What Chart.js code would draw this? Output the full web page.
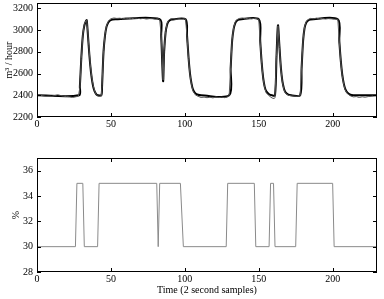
<!DOCTYPE html>
<html>
<head>
<meta charset="utf-8">
<script src="https://cdn.jsdelivr.net/npm/chart.js@4/dist/chart.umd.min.js"></script>
<style>
  html, body { margin: 0; padding: 0; background: #fff; }
  #wrap { position: relative; width: 384px; height: 299px; }
  #flowBox { position: absolute; left: 0; top: 0; width: 384px; height: 140px; }
  #pctBox  { position: absolute; left: 0; top: 140px; width: 384px; height: 159px; }
</style>
</head>
<body>
<div id="wrap">
  <div id="flowBox"><canvas id="flowChart"></canvas></div>
  <div id="pctBox"><canvas id="pctChart"></canvas></div>
</div>
<script>
// ---- data (time in 2 s samples) ----
const xTicks = [0, 50, 100, 150, 200];
const flowTicks = [2200, 2400, 2600, 2800, 3000, 3200];
const pctTicks = [28, 30, 32, 34, 36];

// model output (thick black)
const modelFlow = [
  [0,2400],[28.5,2400],[29,2480],[30,2750],[31,2950],[32,3040],[33,3080],[33.6,3092],
  [34,3040],[35,2850],[36,2680],[37,2560],[38,2480],[39,2435],[40,2410],[41,2400],
  [43.5,2400],[44,2480],[45,2800],[46,2950],[47,3030],[48,3065],[49,3085],[51,3097],
  [53,3100],[83,3100],[84,2950],[85.3,2530],[86,2800],[87,2980],[88,3050],[89,3080],
  [91,3097],[100.5,3100],[101.5,2950],[102.5,2750],[103.5,2600],[104.5,2510],[105.5,2455],
  [107,2420],[109,2405],[111,2400],[130,2400],[131,2650],[132,2900],[133,3010],[134,3060],
  [135,3085],[137,3098],[150,3100],[151,2900],[152,2700],[153,2560],[154,2480],[155,2440],
  [157,2410],[159,2400],[161,2400],[162,2750],[163,3045],[164,2850],[165,2650],[166,2530],
  [167,2465],[168,2430],[170,2405],[172,2400],[178,2400],[179,2650],[180,2900],[181,3020],
  [182,3065],[183,3085],[185,3098],[203.5,3100],[204.5,2900],[205.5,2720],[206.5,2590],
  [207.5,2510],[208.5,2460],[210,2425],[212,2405],[214,2400],[230,2400]
];

// measured flow (thin grey)
const measFlow = [
  [0,2405],[2,2402],[4,2395],[6,2390],[8,2392],[10,2390],[12,2398],[14,2405],[16,2398],
  [18,2392],[20,2388],[22,2385],[24,2380],[26,2385],[28,2392],[29,2470],[30,2740],[31,2955],
  [32,3050],[33,3085],[33.6,3090],[34,3045],[35,2860],[36,2690],[37,2570],[38,2490],[39,2440],
  [40,2405],[41,2395],[42,2390],[43.5,2395],[44,2490],[45,2810],[46,2960],[47,3040],[48,3075],
  [49,3095],[50,3105],[52,3112],[54,3108],[56,3110],[58,3105],[60,3110],[62,3108],[64,3105],
  [66,3112],[68,3110],[70,3105],[72,3108],[74,3102],[76,3106],[78,3105],[80,3100],[82,3105],
  [83,3095],[84,2960],[85.3,2540],[86,2810],[87,2990],[88,3060],[89,3090],[90,3102],[92,3106],
  [94,3100],[96,3104],[98,3100],[100,3105],[100.5,3100],[101.5,2940],[102.5,2740],[103.5,2590],
  [104.5,2500],[105.5,2440],[107,2405],[109,2390],[111,2380],[113,2383],[115,2378],[117,2382],
  [119,2376],[121,2384],[123,2379],[125,2382],[127,2378],[129,2385],[130,2400],[131,2660],
  [132,2910],[133,3020],[134,3070],[135,3095],[137,3108],[139,3112],[141,3106],[143,3110],
  [145,3105],[147,3108],[149,3104],[150,3100],[151,2890],[152,2690],[153,2550],[154,2470],
  [155,2425],[157,2395],[159,2375],[160.5,2370],[161,2380],[162,2760],[163,3040],[164,2840],
  [165,2640],[166,2520],[167,2455],[168,2420],[170,2400],[172,2395],[174,2392],[176,2390],
  [178,2395],[179,2660],[180,2910],[181,3030],[182,3075],[183,3095],[185,3108],[187,3105],
  [189,3110],[191,3104],[193,3108],[195,3102],[197,3106],[199,3104],[201,3100],[203.5,3100],
  [204.5,2890],[205.5,2710],[206.5,2580],[207.5,2500],[208.5,2450],[210,2415],[212,2395],
  [214,2385],[216,2388],[218,2380],[220,2386],[222,2382],[224,2388],[226,2390],[228,2395],
  [230,2398]
];

// controller output (%)
const pctSteps = [
  [0,30],[26,30],[27,35],[31,35],[32,30],[41,30],[42,35],[81,35],[82,30],[83,35],[97,35],
  [99,30],[128,30],[129,35],[147,35],[148,30],[157,30],[158,35],[160,35],[161,30],[175,30],
  [176,35],[200,35],[201,30],[230,30]
];

const FONT = "'Liberation Serif', 'DejaVu Serif', serif";
const toXY = arr => arr.map(p => ({ x: p[0], y: p[1] }));

// boxed frame with inward ticks on all four sides (matlab look)
const frameTicks = {
  id: "frameTicks",
  afterDatasetsDraw(chart) {
    const { ctx, chartArea: a, scales: { x, y } } = chart;
    const L = 4;
    ctx.save();
    ctx.strokeStyle = "#000";
    ctx.lineWidth = 1;
    ctx.strokeRect(Math.round(a.left) + 0.5, Math.round(a.top) + 0.5,
                   Math.round(a.width) - 1, Math.round(a.height) - 1);
    ctx.beginPath();
    x.ticks.forEach(t => {
      const px = Math.round(x.getPixelForValue(t.value)) + 0.5;
      ctx.moveTo(px, a.bottom); ctx.lineTo(px, a.bottom - L);
      ctx.moveTo(px, a.top);    ctx.lineTo(px, a.top + L);
    });
    y.ticks.forEach(t => {
      const py = Math.round(y.getPixelForValue(t.value)) + 0.5;
      ctx.moveTo(a.left, py);  ctx.lineTo(a.left + L, py);
      ctx.moveTo(a.right, py); ctx.lineTo(a.right - L, py);
    });
    ctx.stroke();
    ctx.restore();
  }
};

function axisX(withTitle, h) {
  return {
    type: "linear", min: 0, max: 230,
    afterBuildTicks: s => { s.ticks = xTicks.map(v => ({ value: v })); },
    afterFit: s => { s.height = h; s.paddingLeft = 0; s.paddingRight = 0; },
    grid: { display: false, drawTicks: false, tickLength: 0 }, border: { display: false },
    ticks: {
      color: "#000", font: { family: FONT, size: 10 }, padding: 1, maxRotation: 0,
      callback: v => String(v)
    },
    title: {
      display: withTitle, text: "Time (2 second samples)", color: "#000",
      font: { family: FONT, size: 10 }, padding: { top: 0, bottom: 3 }
    }
  };
}

function axisY(min, max, ticks, title, titleGap) {
  return {
    min, max,
    afterBuildTicks: s => { s.ticks = ticks.map(v => ({ value: v })); },
    afterFit: s => { s.width = 37; s.paddingTop = 0; s.paddingBottom = 0; },
    grid: { display: false, drawTicks: false, tickLength: 0 }, border: { display: false },
    ticks: {
      color: "#000", font: { family: FONT, size: 10 }, padding: 4,
      callback: v => String(v)
    },
    title: {
      display: true, text: title, color: "#000",
      font: { family: FONT, size: 10 }, padding: { top: titleGap, bottom: 0 }
    }
  };
}

Chart.defaults.animation = false;

new Chart(document.getElementById("flowChart"), {
  type: "line",
  data: {
    datasets: [
      {
        label: "measured", data: toXY(measFlow),
        borderColor: "#555", borderWidth: 1, pointRadius: 0, tension: 0
      },
      {
        label: "model", data: toXY(modelFlow),
        borderColor: "#000", borderWidth: 2, pointRadius: 0, tension: 0.3
      }
    ]
  },
  options: {
    responsive: true, maintainAspectRatio: false,
    layout: { padding: { top: 3, right: 7, left: 0, bottom: 0 } },
    plugins: { legend: { display: false }, tooltip: { enabled: false } },
    scales: {
      x: axisX(false, 23),
      y: axisY(2200, 3250, flowTicks, "m³ / hour", 3)
    }
  },
  plugins: [frameTicks]
});

new Chart(document.getElementById("pctChart"), {
  type: "line",
  data: {
    datasets: [
      {
        label: "output", data: toXY(pctSteps),
        borderColor: "#8a8a8a", borderWidth: 1, pointRadius: 0, tension: 0
      }
    ]
  },
  options: {
    responsive: true, maintainAspectRatio: false,
    layout: { padding: { top: 18, right: 7, left: 0, bottom: 0 } },
    plugins: { legend: { display: false }, tooltip: { enabled: false } },
    scales: {
      x: axisX(true, 27),
      y: axisY(28, 37, pctTicks, "%", 10)
    }
  },
  plugins: [frameTicks]
});
</script>
</body>
</html>
